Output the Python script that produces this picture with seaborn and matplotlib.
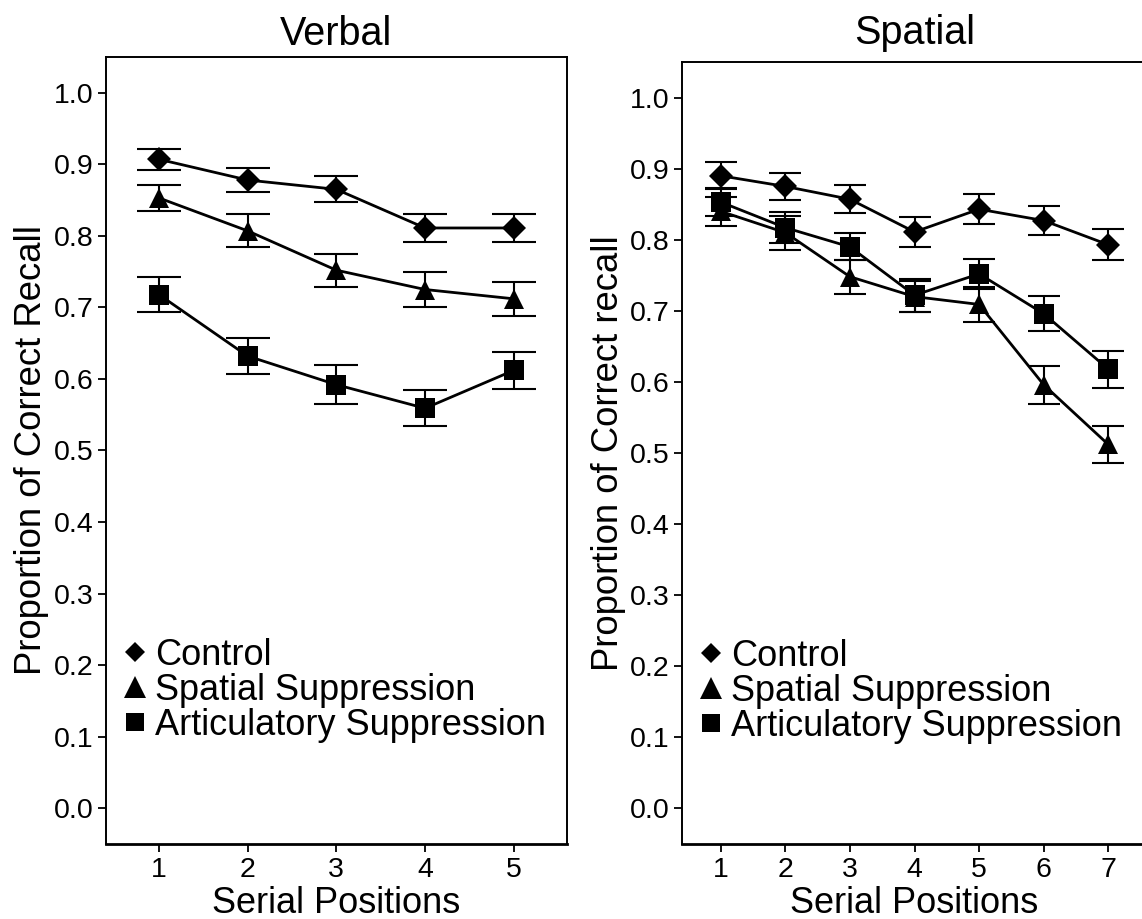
import pandas as pd
import numpy as np
import matplotlib
matplotlib.use("Agg")
import matplotlib.pyplot as plt
from matplotlib.lines import Line2D
import seaborn as sns

# --- values (mean proportion correct and SE)
conditions = ["Control", "Spatial Suppression", "Articulatory Suppression"]

verbal_pos = [1, 2, 3, 4, 5]
verbal_control = [0.907, 0.878, 0.865, 0.811, 0.811]
verbal_control_se = [0.015, 0.017, 0.018, 0.020, 0.020]
verbal_spatial = [0.853, 0.807, 0.752, 0.725, 0.712]
verbal_spatial_se = [0.018, 0.023, 0.023, 0.024, 0.024]
verbal_artic = [0.718, 0.632, 0.592, 0.559, 0.612]
verbal_artic_se = [0.024, 0.025, 0.027, 0.025, 0.026]

spatial_pos = [1, 2, 3, 4, 5, 6, 7]
spatial_control = [0.890, 0.875, 0.857, 0.811, 0.843, 0.827, 0.793]
spatial_control_se = [0.019, 0.019, 0.020, 0.021, 0.021, 0.020, 0.022]
spatial_spatial = [0.840, 0.810, 0.748, 0.720, 0.709, 0.596, 0.512]
spatial_spatial_se = [0.020, 0.024, 0.024, 0.022, 0.025, 0.027, 0.026]
spatial_artic = [0.853, 0.817, 0.790, 0.722, 0.752, 0.696, 0.618]
spatial_artic_se = [0.020, 0.022, 0.019, 0.023, 0.021, 0.025, 0.026]


def long_df(pos, means, ses):
    rows = []
    for cond, m, s in zip(conditions, means, ses):
        for p, v, e in zip(pos, m, s):
            rows.append({"pos": p, "recall": v, "se": e, "condition": cond})
    return pd.DataFrame(rows)


df_verbal = long_df(verbal_pos,
                    [verbal_control, verbal_spatial, verbal_artic],
                    [verbal_control_se, verbal_spatial_se, verbal_artic_se])
df_spatial = long_df(spatial_pos,
                     [spatial_control, spatial_spatial, spatial_artic],
                     [spatial_control_se, spatial_spatial_se, spatial_artic_se])

sns.set_style("white")
plt.rcParams["font.family"] = ["Liberation Sans", "DejaVu Sans"]
plt.rcParams["text.color"] = "black"
plt.rcParams["axes.labelcolor"] = "black"
plt.rcParams["xtick.color"] = "black"
plt.rcParams["ytick.color"] = "black"

# marker, size on the plot, size in the legend
markers = {"Control": ("D", 12, 10),
           "Spatial Suppression": ("^", 15, 16),
           "Articulatory Suppression": ("s", 14, 12.5)}

fig = plt.figure(figsize=(11.42, 9.19), dpi=100)
ax1 = fig.add_axes([0.0925, 0.0816, 0.404, 0.8564])
ax2 = fig.add_axes([0.5972, 0.0816, 0.4072, 0.8509])


def draw_panel(ax, df, n, title, ylabel, capsize, title_pad):
    for cond in conditions:
        sub = df[df["condition"] == cond]
        ax.errorbar(sub["pos"], sub["recall"], yerr=sub["se"], fmt="none",
                    ecolor="black", elinewidth=1.5, capsize=capsize,
                    capthick=1.5, zorder=2)
        m, ms, _ = markers[cond]
        sns.lineplot(data=sub, x="pos", y="recall", ax=ax, color="black",
                     marker=m, markersize=ms, markeredgewidth=0,
                     linewidth=2.0, zorder=3, errorbar=None)
    ax.set_xlim(0.4, n + 0.6)
    ax.set_ylim(-0.05, 1.05)
    ax.set_xticks(range(1, n + 1))
    ax.set_yticks(np.arange(0, 1.01, 0.1))
    ax.set_yticklabels([f"{v:.1f}" for v in np.arange(0, 1.01, 0.1)])
    ax.tick_params(axis="both", labelsize=20.5, length=5.5, width=1.3,
                   pad=3.5, color="black", labelcolor="black",
                   direction="out", bottom=True, left=True)
    ax.set_xlabel("Serial Positions", fontsize=26, labelpad=2.5)
    ax.set_ylabel(ylabel, fontsize=26.3, labelpad=3)
    ax.set_title(title, fontsize=28.5, pad=title_pad)
    for side in ["left", "right", "top"]:
        ax.spines[side].set_linewidth(1.4)
        ax.spines[side].set_color("black")
    ax.spines["bottom"].set_linewidth(2.0)
    ax.spines["bottom"].set_color("black")

    handles = [Line2D([], [], marker=markers[c][0], ls="none", color="black",
                      markersize=markers[c][2], markeredgewidth=0)
               for c in conditions]
    ax.legend(handles, conditions, loc="center left",
              bbox_to_anchor=(0.04, 0.195), frameon=False, fontsize=26,
              handlelength=0.6, handletextpad=0.25, labelspacing=0.0,
              borderpad=0, borderaxespad=0)


draw_panel(ax1, df_verbal, 5, "Verbal", "Proportion of Correct Recall", 16, 8.5)
draw_panel(ax2, df_spatial, 7, "Spatial", "Proportion of Correct recall", 11.6, 13)

fig.savefig("out.png", dpi=100)
